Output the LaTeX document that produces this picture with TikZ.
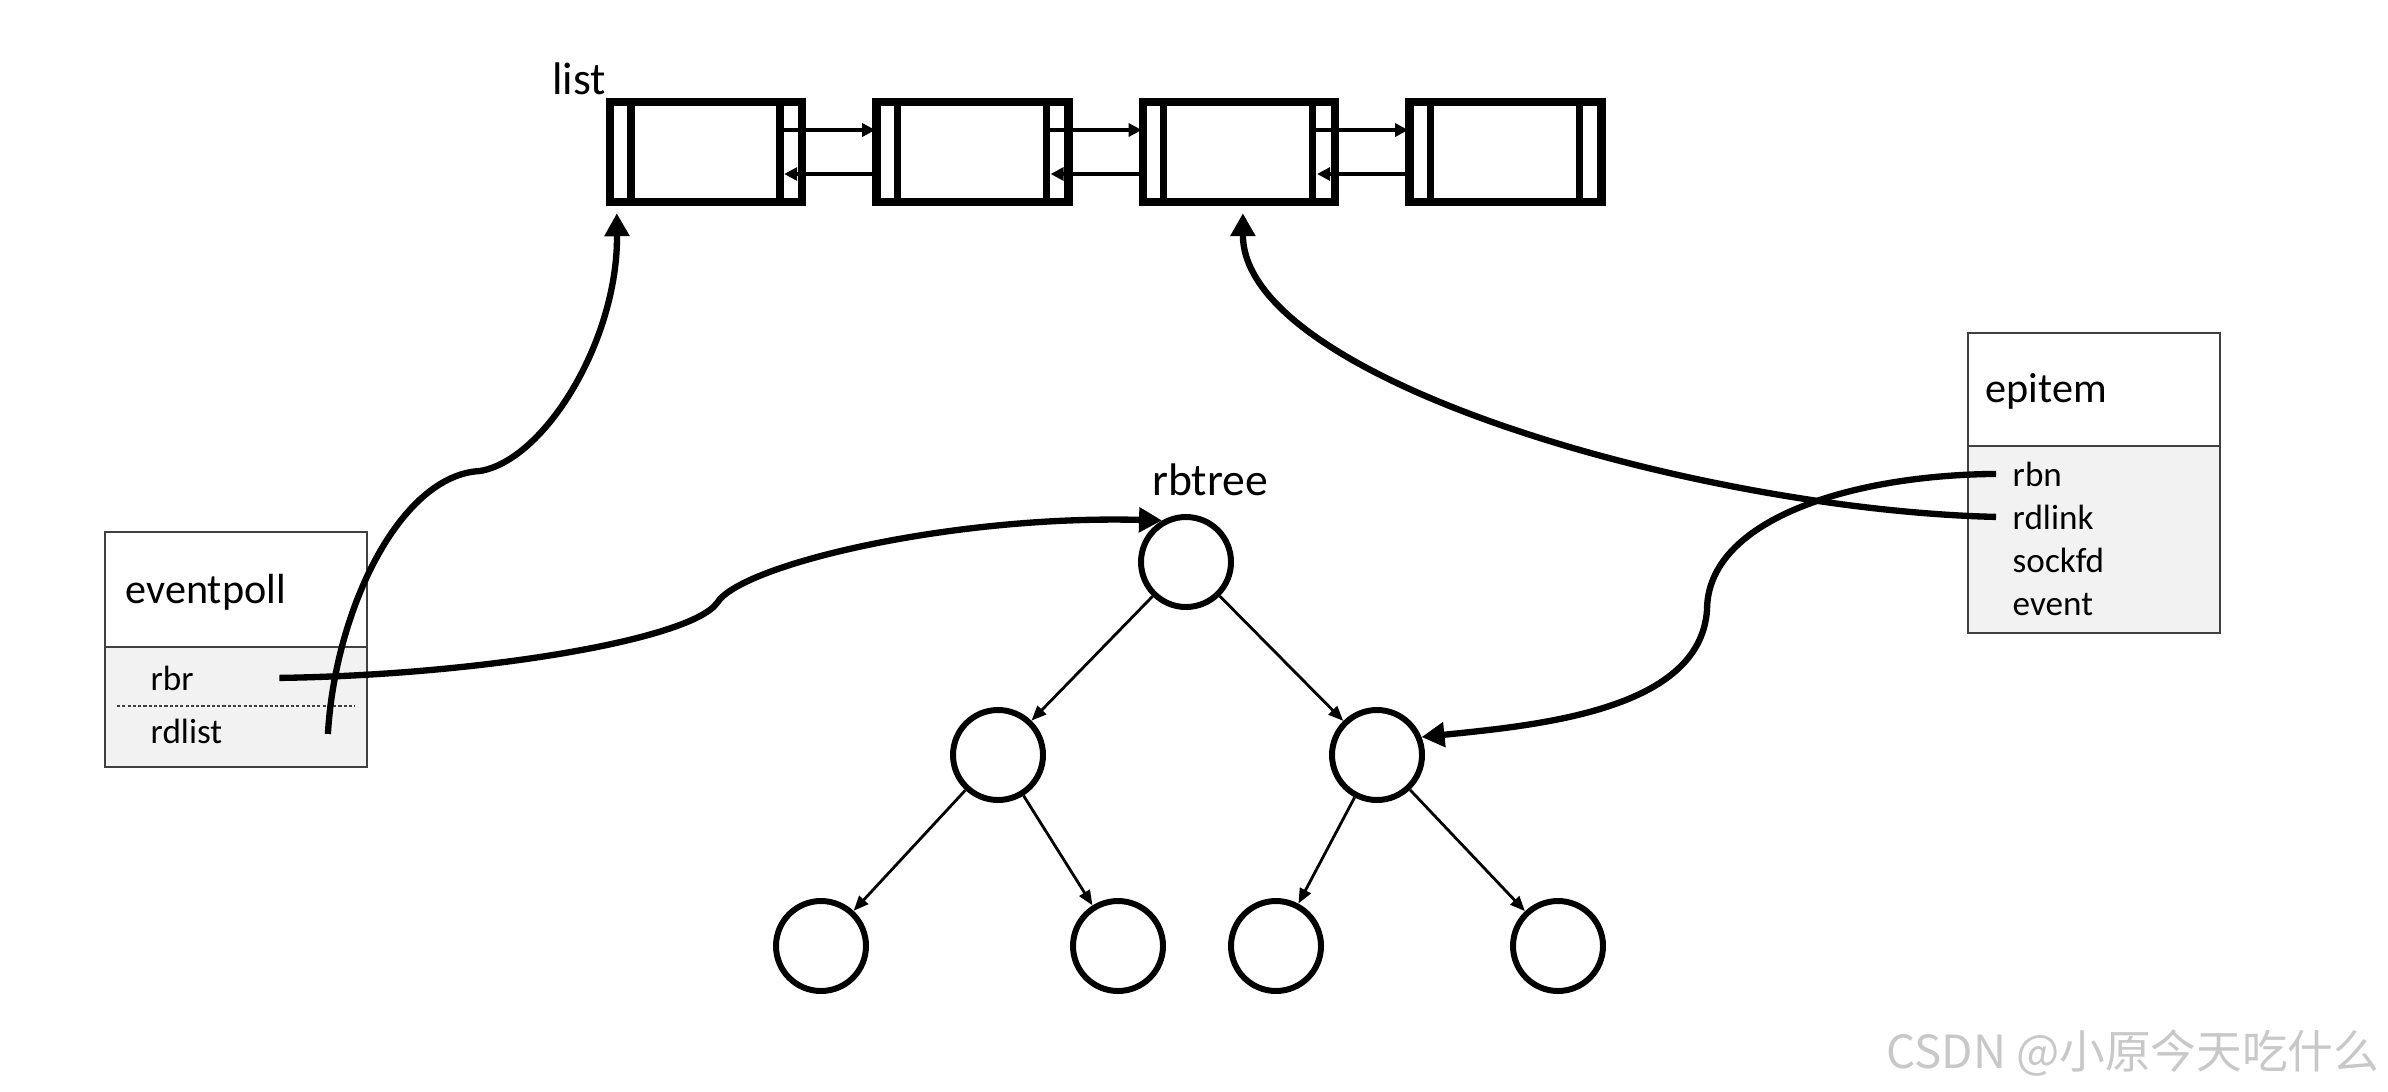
\documentclass[tikz,border=0pt]{standalone}
\usepackage{fontspec}
\setmainfont{Carlito}
\newfontfamily\cjkfont{Noto Sans CJK SC}
\usetikzlibrary{positioning,arrows.meta,calc}

\definecolor{boxgray}{HTML}{404040}
\definecolor{fieldfill}{HTML}{F2F2F2}
\definecolor{markgray}{HTML}{C8C8C8}

\begin{document}
\begin{tikzpicture}[
    listbox/.style={rectangle, draw, line width=2.4pt, minimum width=1.92cm, minimum height=1.0cm, inner sep=0pt},
    cell/.style={line width=2pt},
    nextptr/.style={-{Triangle[length=1.3mm,width=1.3mm]}, line width=1.1pt},
    tnode/.style={circle, draw, line width=1.7pt, minimum size=0.9cm, inner sep=0pt},
    treeline/.style={-{Triangle[length=1.5mm,width=1.2mm]}, line width=0.8pt},
    ptr/.style={-{Triangle[length=2.3mm,width=2.4mm]}, line width=1.8pt},
    structbox/.style={rectangle, draw=boxgray, line width=0.6pt, fill=white, inner sep=0pt, outer sep=0pt},
    sepline/.style={draw=boxgray, line width=0.6pt, dash pattern=on 0.9pt off 0.6pt},
    lbl/.style={inner sep=0pt, font=\fontsize{13}{15}\selectfont},
    title/.style={inner sep=0pt, font=\fontsize{12}{14}\selectfont},
    field/.style={inner sep=0pt, font=\fontsize{10}{12}\selectfont}
]
\path[fill=white, use as bounding box] (0,0) rectangle (23.88,-10.91);

% list
\node[listbox] (lst1) at (7.06,-1.52) {};
\node[listbox, right=0.66cm of lst1] (lst2) {};
\node[listbox, right=0.66cm of lst2] (lst3) {};
\node[listbox, right=0.66cm of lst3] (lst4) {};
\node[lbl, anchor=base east] (listlbl) at ($(lst1.north west)+(0.01,0.03)$) {list};

\foreach \b in {lst1,lst2,lst3,lst4} {
  \draw[cell] ($(\b.north)+(-0.75,0)$) -- ($(\b.south)+(-0.75,0)$);
  \draw[cell] ($(\b.north)+(0.74,0)$) -- ($(\b.south)+(0.74,0)$);
}
\foreach \a/\b in {lst1/lst2,lst2/lst3,lst3/lst4} {
  \draw[nextptr] ($(\a.east)+(-0.26,0.22)$) -- ($(\b.west)+(0.03,0.22)$);
  \draw[nextptr] ($(\b.west)+(0.04,-0.22)$) -- ($(\a.east)+(-0.22,-0.22)$);
}

% eventpoll
\node[structbox, minimum width=2.62cm, minimum height=1.15cm] (evhead) at (2.36,-5.895) {};
\node[structbox, fill=fieldfill, minimum width=2.62cm, minimum height=1.20cm, below=0pt of evhead] (evbody) {};
\node[title, anchor=base west] (evname) at ($(evhead.west)+(0.2,-0.135)$) {eventpoll};
\node[field, anchor=base west] (rbr) at ($(evbody.north west)+(0.45,-0.43)$) {rbr};
\node[field, anchor=base west] (rdlist) at ($(evbody.north west)+(0.45,-0.96)$) {rdlist};
\draw[sepline] ($(evbody.west)+(0.12,0.01)$) -- ($(evbody.east)+(-0.12,0.01)$);

% epitem
\node[structbox, minimum width=2.52cm, minimum height=1.13cm] (ephead) at (20.94,-3.895) {};
\node[structbox, fill=fieldfill, minimum width=2.52cm, minimum height=1.87cm, below=0pt of ephead] (epbody) {};
\node[title, anchor=base west] (epname) at ($(ephead.west)+(0.17,-0.125)$) {epitem};
\node[field, anchor=base west] (rbn) at ($(epbody.north west)+(0.44,-0.40)$) {rbn};
\node[field, anchor=base west] (rdlink) at ($(epbody.north west)+(0.44,-0.83)$) {rdlink};
\node[field, anchor=base west] (sockfd) at ($(epbody.north west)+(0.44,-1.26)$) {sockfd};
\node[field, anchor=base west] (event) at ($(epbody.north west)+(0.44,-1.69)$) {event};

% rbtree
\node[tnode] (root) at (11.86,-5.62) {};
\node[tnode] (tl) at ($(root)+(-1.88,-1.93)$) {};
\node[tnode] (tr) at ($(root)+(1.91,-1.93)$) {};
\node[tnode] (tll) at ($(tl)+(-1.77,-1.91)$) {};
\node[tnode] (tlr) at ($(tl)+(1.20,-1.91)$) {};
\node[tnode] (trl) at ($(tr)+(-1.01,-1.91)$) {};
\node[tnode] (trr) at ($(tr)+(1.81,-1.91)$) {};
\node[lbl, anchor=base] (treelbl) at ($(root.north)+(0.24,0.19)$) {rbtree};

\foreach \a/\b in {root/tl,root/tr,tl/tll,tl/tlr,tr/trl,tr/trr}
  \draw[treeline] (\a) -- (\b);

% pointers
\coordinate (rdlstart) at ($(rdlist.east)+(1.05,-0.03)$);
\coordinate (rbrstart) at ($(rbr.east)+(0.85,0)$);
\coordinate (rbnstart) at ($(rbn.west)+(-0.16,0)$);
\coordinate (rdkstart) at ($(rdlink.west)+(-0.16,0)$);

\draw[ptr] (rdlstart) .. controls (3.35,-6.10) and (4.00,-4.75) .. (4.80,-4.71)
  .. controls (5.45,-4.60) and (6.18,-3.40) .. ($(lst1.south west)+(0.11,-0.07)$);
\draw[ptr] (rbrstart) .. controls (4.80,-6.75) and (6.90,-6.40) .. (7.17,-6.03)
  .. controls (7.40,-5.65) and (9.50,-5.15) .. (root.120);
\draw[ptr] (rdkstart) .. controls (17.00,-5.10) and (12.43,-3.80) .. ($(lst3.south)+(0.04,-0.07)$);
\draw[ptr] (rbnstart) .. controls (18.50,-4.75) and (17.07,-5.20) .. (17.07,-6.10)
  .. controls (17.00,-7.10) and (15.40,-7.25) .. (tr.22);

% watermark
\node[anchor=base east, inner sep=0pt, text=markgray, font=\cjkfont\fontsize{13}{15}\selectfont] (mark) at (23.80,-10.68) {CSDN @小原今天吃什么};

\end{tikzpicture}
\end{document}
